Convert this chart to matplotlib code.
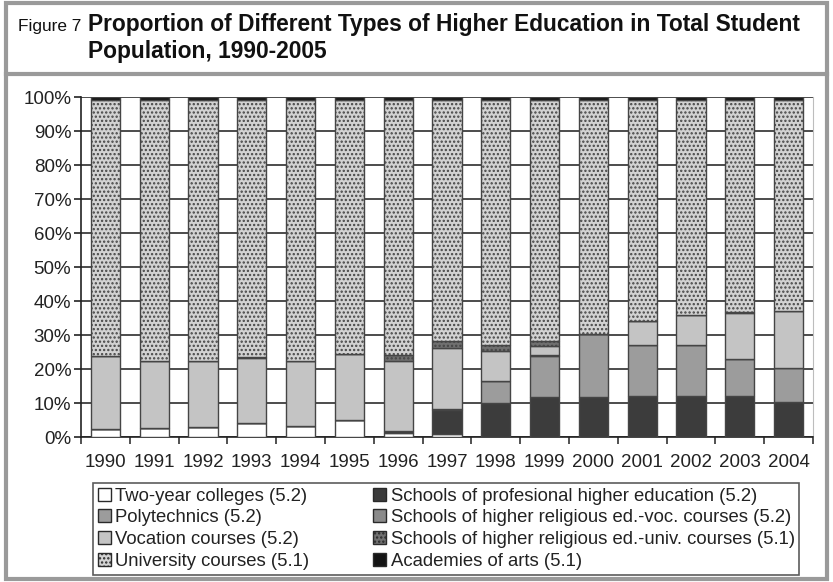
import matplotlib
matplotlib.use("Agg")
import matplotlib.pyplot as plt
from matplotlib.patches import Rectangle, Patch
from matplotlib.lines import Line2D
import numpy as np

plt.rcParams['font.family'] = ['Liberation Sans', 'DejaVu Sans']
plt.rcParams['hatch.linewidth'] = 1.1
plt.rcParams['hatch.color'] = '#4a4a4a'

years = ["1990", "1991", "1992", "1993", "1994", "1995", "1996", "1997",
         "1998", "1999", "2000", "2001", "2002", "2003", "2004"]

# shares of total student population, % (stacked bottom to top)
two_year     = [2.3, 2.7, 3.0, 4.2, 3.3, 5.1, 1.3, 1.0, 0.0, 0.0, 0.0, 0.0, 0.0, 0.0, 0.0]
professional = [0.0, 0.0, 0.0, 0.0, 0.0, 0.0, 0.4, 6.8, 9.9, 11.9, 11.9, 12.1, 12.1, 12.1, 10.4]
polytechnics = [0.0, 0.0, 0.0, 0.0, 0.0, 0.0, 0.0, 0.4, 6.6, 11.9, 18.4, 15.0, 15.0, 10.8, 9.8]
religious_voc = [0.0, 0.0, 0.0, 0.0, 0.0, 0.0, 0.0, 0.0, 0.0, 0.3, 0.0, 0.0, 0.0, 0.0, 0.0]
vocation     = [21.5, 19.7, 19.3, 19.1, 19.1, 19.2, 20.7, 18.1, 8.9, 2.8, 0.0, 7.0, 8.8, 13.5, 17.0]
religious_uni = [0.0, 0.0, 0.0, 0.3, 0.0, 0.0, 1.7, 2.0, 1.7, 1.4, 0.0, 0.0, 0.0, 0.4, 0.0]
university   = [75.2, 76.6, 76.7, 75.4, 76.6, 74.7, 74.9, 70.7, 71.9, 70.7, 68.7, 64.9, 63.1, 62.2, 61.8]
academies    = [1.0, 1.0, 1.0, 1.0, 1.0, 1.0, 1.0, 1.0, 1.0, 1.0, 1.0, 1.0, 1.0, 1.0, 1.0]

series = [
    ("Two-year colleges (5.2)", two_year, "#ffffff", None),
    ("Schools of profesional higher education (5.2)", professional, "#3c3c3c", None),
    ("Polytechnics (5.2)", polytechnics, "#9c9c9c", None),
    ("Schools of higher religious ed.-voc. courses (5.2)", religious_voc, "#8a8a8a", None),
    ("Vocation courses (5.2)", vocation, "#c4c4c4", None),
    ("Schools of higher religious ed.-univ. courses (5.1)", religious_uni, "#707070", "...."),
    ("University courses (5.1)", university, "#d2d2d2", "...."),
    ("Academies of arts (5.1)", academies, "#141414", None),
]

W, H = 833, 582
fig = plt.figure(figsize=(W / 100, H / 100), dpi=100)

ax = fig.add_axes([81 / W, 1 - 437 / H, (813 - 81) / W, 340 / H])

x = np.arange(len(years))
bottom = np.zeros(len(years))
handles = {}
for label, vals, color, hatch in series:
    vals = np.array(vals)
    ax.bar(x, vals, width=0.6, bottom=bottom, color=color, edgecolor="#454545",
           linewidth=1.0, hatch=hatch, zorder=3)
    handles[label] = Patch(facecolor=color, edgecolor="#2a2a2a", hatch=hatch, linewidth=1.0)
    bottom += vals

ax.set_xlim(-0.5, len(years) - 0.5)
ax.set_ylim(0, 100)
ax.set_yticks(np.arange(0, 101, 10))
ax.set_yticklabels([f"{v}%" for v in range(0, 101, 10)])
ax.set_xticks(x)
ax.set_xticklabels(years)
ax.set_xticks(np.arange(-0.5, len(years) - 0.4, 1.0), minor=True)
ax.tick_params(axis="x", which="major", length=0, pad=12, labelsize=13.5, colors="#222222")
ax.tick_params(axis="x", which="minor", length=5, width=1.2, direction="out", color="#333333")
ax.tick_params(axis="y", length=5, width=1.2, direction="out", pad=2, labelsize=13.5,
               colors="#222222")
ax.yaxis.grid(True, color="#2e2e2e", linewidth=1.2, zorder=0)
ax.set_axisbelow(True)
ax.spines["top"].set_visible(False)
ax.spines["right"].set_color("#bdbdbd")
ax.spines["left"].set_color("#222222")
ax.spines["bottom"].set_color("#222222")
ax.spines["left"].set_linewidth(1.2)
ax.spines["bottom"].set_linewidth(1.2)

order = [
    "Two-year colleges (5.2)", "Polytechnics (5.2)", "Vocation courses (5.2)",
    "University courses (5.1)",
    "Schools of profesional higher education (5.2)",
    "Schools of higher religious ed.-voc. courses (5.2)",
    "Schools of higher religious ed.-univ. courses (5.1)",
    "Academies of arts (5.1)",
]
leg = fig.legend([handles[k] for k in order], order, ncol=2,
                 loc="upper left", bbox_to_anchor=(93 / W, 1 - 483 / H),
                 fontsize=13.3, handlelength=0.7, handleheight=0.7,
                 handletextpad=0.25, labelspacing=0.26, borderpad=0.25,
                 columnspacing=3.45, frameon=True, fancybox=False,
                 borderaxespad=0)
leg.get_frame().set_edgecolor("#333333")
leg.get_frame().set_linewidth(1.2)
for t in leg.get_texts():
    t.set_color("#222222")

# outer frame and header divider
fig.patches.append(Rectangle((6 / W, 3 / H), (827 - 6) / W, (579 - 3) / H,
                             transform=fig.transFigure, fill=False,
                             edgecolor="#9a9a9a", linewidth=3))
fig.lines.append(Line2D([6 / W, 827 / W], [1 - 74 / H, 1 - 74 / H],
                        transform=fig.transFigure, color="#9a9a9a", linewidth=3))

head_family = ["Liberation Sans", "DejaVu Sans"]
t0 = fig.text(18 / W, 1 - 31 / H, "Figure 7", fontsize=14, color="#111111",
              family=head_family, va="baseline")
t1 = fig.text(88 / W, 1 - 31 / H,
              "Proportion of Different Types of Higher Education in Total Student",
              fontsize=15, fontweight="bold", color="#111111",
              family=head_family, va="baseline")
t2 = fig.text(88 / W, 1 - 58 / H, "Population, 1990-2005",
              fontsize=15, fontweight="bold", color="#111111",
              family=head_family, va="baseline")

# fit header sizes to the available widths
renderer = fig.canvas.get_renderer()
w1 = t1.get_window_extent(renderer).width
fs1 = min(15 * (805 - 88) / w1, 17)
t1.set_fontsize(fs1)
t2.set_fontsize(fs1)
w0 = t0.get_window_extent(renderer).width
t0.set_fontsize(min(14 * (82 - 18) / w0, fs1))

fig.savefig("out.png", dpi=100)
